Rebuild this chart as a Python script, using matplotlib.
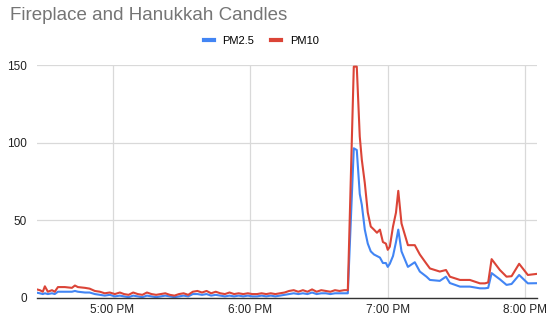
import matplotlib
matplotlib.use("Agg")
import matplotlib.pyplot as plt
from matplotlib.lines import Line2D

plt.rcParams['font.family'] = ['Liberation Sans', 'DejaVu Sans']

# minutes after 4:00 PM
minutes = [27, 28.3, 29.6, 30.5, 31.8, 33.6, 34.8, 36.2, 39.2, 42.3, 43.6, 44.9, 48, 50,
           52.3, 54.5, 56.6, 58.8, 61, 63.2, 65, 67, 69, 71, 73, 75, 77, 79, 81, 83,
           85, 87, 89, 91, 93, 95, 97, 99, 101, 103, 105, 107, 109, 111, 113, 115,
           117, 119, 121, 123, 125, 127, 129, 131, 133, 135, 137, 139, 141, 143, 145,
           147, 149, 151, 153, 155, 157, 159, 161, 162.6, 165.2, 166.5, 167.8, 168.7,
           170, 171.3, 172.6, 174, 175.3, 176.6, 177.9, 179.2, 180, 180.9, 182.3,
           183.6, 184.6, 186, 188.8, 191.8, 194, 196.9, 198.4, 202.7, 205.4, 207.1,
           211.5, 215.8, 220.2, 222.4, 223.8, 225.3, 228.9, 231.8, 234, 237.3, 241.1,
           245]

pm25 = [3.4, 3, 2.5, 3, 2.5, 3, 2.5, 4, 4, 4, 4.5, 4, 3.5, 3.5,
        2.5, 2, 1.5, 2, 1, 1.5, 1, 0.5, 1.5, 1, 0.5, 1.5, 1, 0.5, 1, 1.5,
        1, 0.5, 1, 1.5, 1, 2.5, 2.5, 2, 2.5, 1.5, 2, 1.5, 1, 1.5, 1, 1.5,
        1, 1.5, 1, 1, 1.5, 1, 1.5, 1, 1.5, 2, 2.5, 3, 2.5, 3, 2.5,
        3.5, 2.5, 3, 3, 2.5, 3, 3, 3, 3, 96.4, 95.3, 67, 60,
        44, 35, 30, 28, 27, 26, 22.5, 22.5, 20, 22, 27,
        36, 44, 30, 20, 23, 17, 13.7, 11.6, 11, 13.7, 9.6,
        7.3, 7.3, 6.2, 6.2, 6.5, 16, 12, 8.4, 9, 14.8, 9.4,
        9.5]

pm10 = [5.5, 5, 4, 7.5, 4, 5, 4, 7, 7, 6.5, 8, 7, 6.5, 6,
        4.5, 4, 3, 3.5, 2.5, 3.5, 2.5, 2, 3.5, 2.5, 2, 3.5, 2.5, 2, 2.5, 3,
        2, 1.5, 2.5, 3, 2, 4, 4.5, 3.5, 4.5, 3, 4, 3, 2.5, 3.5, 2.5, 3,
        2.5, 3, 2.5, 2.5, 3, 2.5, 3, 2.5, 3, 3.5, 4.5, 5, 4, 5, 4,
        5.5, 4, 5, 4.5, 4, 5, 4.5, 5, 5, 149, 149, 104, 89,
        74, 55, 46, 44, 42, 44, 36, 35, 31, 33, 46,
        55, 69, 48, 34, 34, 28, 22, 19, 17, 18, 13.7,
        11.6, 11.6, 9.4, 9.4, 10, 25, 18, 13.7, 14, 22, 14.8,
        15.5]

tick_pos = [60, 120, 180, 240]
tick_labels = ['5:00 PM', '6:00 PM', '7:00 PM', '8:00 PM']
series = ['PM2.5', 'PM10']
colors = ['#4285F4', '#DB4437']

fig = plt.figure(figsize=(5.5, 3.19), dpi=100)
ax = fig.add_axes([0.067, 0.066, 0.909, 0.73])

ax.plot(minutes, pm25, color=colors[0], lw=1.5, solid_joinstyle='round')
ax.plot(minutes, pm10, color=colors[1], lw=1.5, solid_joinstyle='round')

ax.set_xlim(27, 245)
ax.set_ylim(0, 150)
ax.set_yticks([0, 50, 100, 150])
ax.set_xticks(tick_pos)
ax.set_xticklabels(tick_labels)

ax.grid(True, color='#d9d9d9', lw=0.9)
ax.set_axisbelow(True)
for s in ['top', 'right', 'left']:
    ax.spines[s].set_visible(False)
ax.spines['bottom'].set_color('#333333')
ax.spines['bottom'].set_linewidth(1.0)
ax.tick_params(length=0, labelsize=8.5, colors='#222222')
ax.tick_params(axis='y', pad=7)
ax.tick_params(axis='x', pad=4)

fig.text(0.018, 0.952, 'Fireplace and Hanukkah Candles', fontsize=13.5,
         color='#757575', va='center', ha='left')

handles = [Line2D([], [], color=c, lw=3) for c in colors]
fig.legend(handles, series, loc='center', bbox_to_anchor=(0.475, 0.871),
           ncol=2, frameon=False, fontsize=8, handlelength=0.9,
           handletextpad=0.8, columnspacing=1.5)

fig.savefig('out.png', dpi=100)
